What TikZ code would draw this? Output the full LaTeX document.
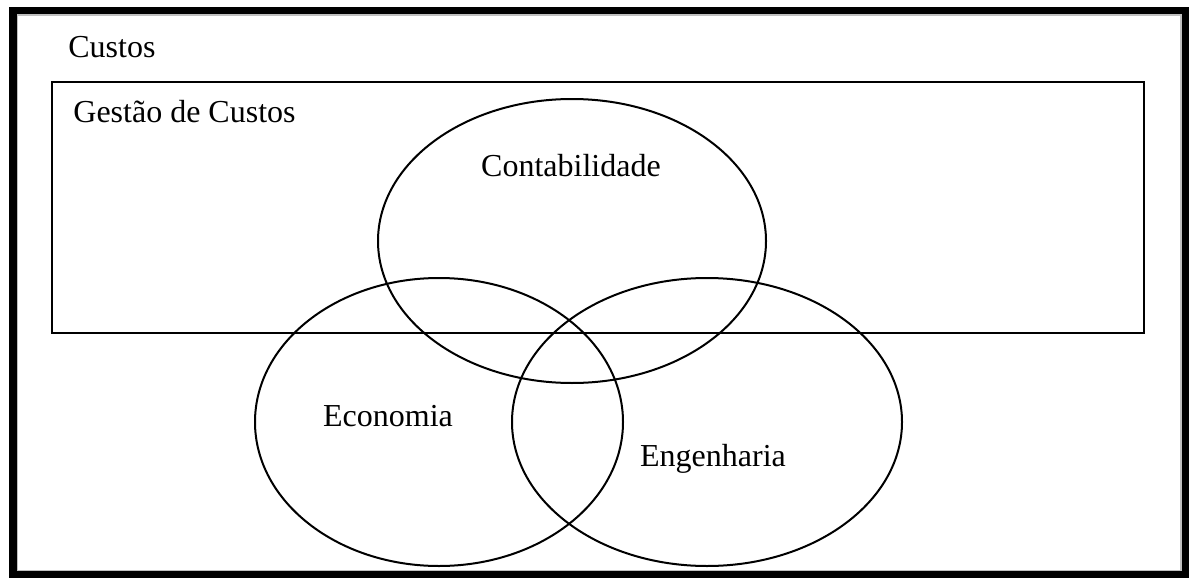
\documentclass[tikz,border=0pt]{standalone}
\usepackage{fontspec}
\setmainfont{Liberation Serif}
\usetikzlibrary{calc}

\begin{document}
\begin{tikzpicture}[x=0.5pt, y=-0.5pt,
    every node/.style={font=\fontsize{16}{19}\selectfont, inner sep=0pt}]
            \pgfmathsetmacro{\rowy}{422} % centre line of the two lower ellipses
            \useasboundingbox (0,0) rectangle (1189,578);

            \coordinate (C) at (572, 241);
            \coordinate (E) at (439, \rowy);
            \coordinate (N) at (707, \rowy);

            \draw [line width=4pt] (12.5,10.5) rectangle (1185.5,574.5);
            \draw [gray!50, line width=0.6pt] (17.5,15) rectangle (1181,570.5);
            \draw [line width=1pt] (52,82) rectangle (1144,333);

            \draw [line width=1pt] (C) ellipse [x radius=194, y radius=142];
            \draw [line width=1pt] (E) ellipse [x radius=184, y radius=144];
            \draw [line width=1pt] (N) ellipse [x radius=195, y radius=144];

            \node (custos) [anchor=base west] at (68,57) {Custos};
            \node (gestao) [anchor=base west] at (73,122) {Gestão de Custos};
            \node (contab) [anchor=base] at (571,176) {Contabilidade};
            \node (econ) [anchor=base] at (388,426) {Economia};
            \node (eng) [anchor=base] at (713,466) {Engenharia};
        \end{tikzpicture}
\end{document}
